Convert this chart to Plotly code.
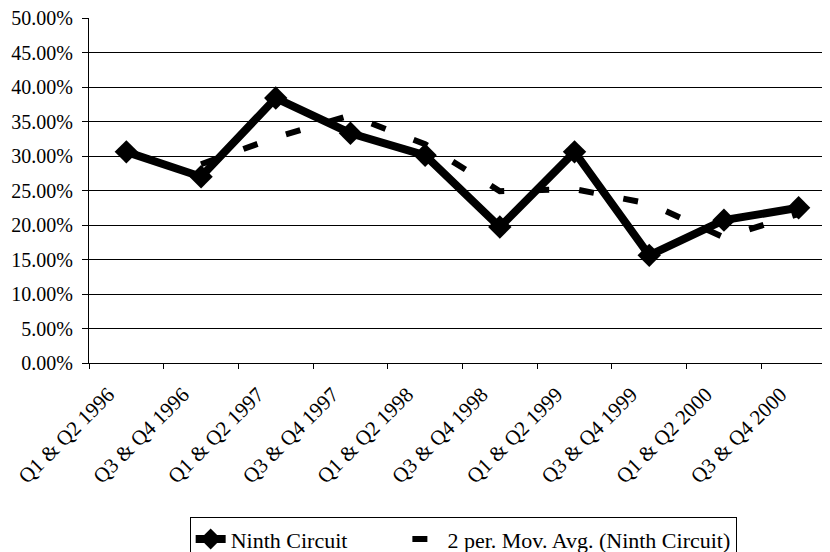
import plotly.graph_objects as go

categories = ["Q1 & Q2 1996", "Q3 & Q4 1996", "Q1 & Q2 1997", "Q3 & Q4 1997",
              "Q1 & Q2 1998", "Q3 & Q4 1998", "Q1 & Q2 1999", "Q3 & Q4 1999",
              "Q1 & Q2 2000", "Q3 & Q4 2000"]
ninth_circuit = [30.6, 27.0, 38.4, 33.3, 30.1, 19.7, 30.6, 15.6, 20.7, 22.5]
mov_avg_x = categories[1:]
mov_avg = [28.8, 32.7, 35.9, 31.7, 24.9, 25.2, 23.1, 18.2, 21.6]
y_ticks = [0, 5, 10, 15, 20, 25, 30, 35, 40, 45, 50]
y_tick_labels = ["0.00%", "5.00%", "10.00%", "15.00%", "20.00%", "25.00%",
                 "30.00%", "35.00%", "40.00%", "45.00%", "50.00%"]

FONT = "Liberation Serif, Times New Roman, serif"
PAD = "\u00a0" * 10

fig = go.Figure()
fig.add_trace(go.Scatter(
    x=mov_avg_x, y=mov_avg, mode="lines",
    name="2 per. Mov. Avg. (Ninth Circuit)",
    line=dict(color="black", width=6, dash="15px,30px"),
    legendrank=2,
))
fig.add_trace(go.Scatter(
    x=categories, y=ninth_circuit, mode="lines+markers",
    name="Ninth Circuit" + PAD,
    line=dict(color="black", width=8),
    marker=dict(symbol="diamond", size=18, color="black"),
    legendrank=1,
))

# page body has an 8px margin, so the figure is sized to fill the rest
fig.update_layout(
    width=822, height=544,
    margin=dict(l=81, r=0, t=10, b=189),
    paper_bgcolor="white", plot_bgcolor="white",
    font=dict(family=FONT, size=20, color="black"),
    showlegend=True,
    legend=dict(
        orientation="h", xref="container", yref="container",
        x=0.221, xanchor="left", y=0.064, yanchor="top",
        bordercolor="black", borderwidth=1,
        font=dict(family=FONT, size=22, color="black"),
    ),
    xaxis=dict(
        type="category", categoryorder="array", categoryarray=categories,
        range=[-0.5, 9.42], automargin=False,
        tickangle=-45, ticks="outside", tickson="boundaries", ticklen=5,
        tickcolor="black", showline=True, linecolor="black", linewidth=1,
        showgrid=False, tickfont=dict(family=FONT, size=21),
        ticklabelstandoff=10, ticklabelshift=-18,
    ),
    yaxis=dict(
        range=[0, 50], tickvals=y_ticks, ticktext=y_tick_labels,
        automargin=False, ticklabeloverflow="allow",
        ticks="outside", ticklen=6, tickcolor="black",
        showline=True, linecolor="black", linewidth=1,
        showgrid=True, gridcolor="black", gridwidth=1,
        zeroline=False, tickfont=dict(family=FONT, size=20),
        ticklabelstandoff=5,
    ),
)

fig.write_html("out.html")
